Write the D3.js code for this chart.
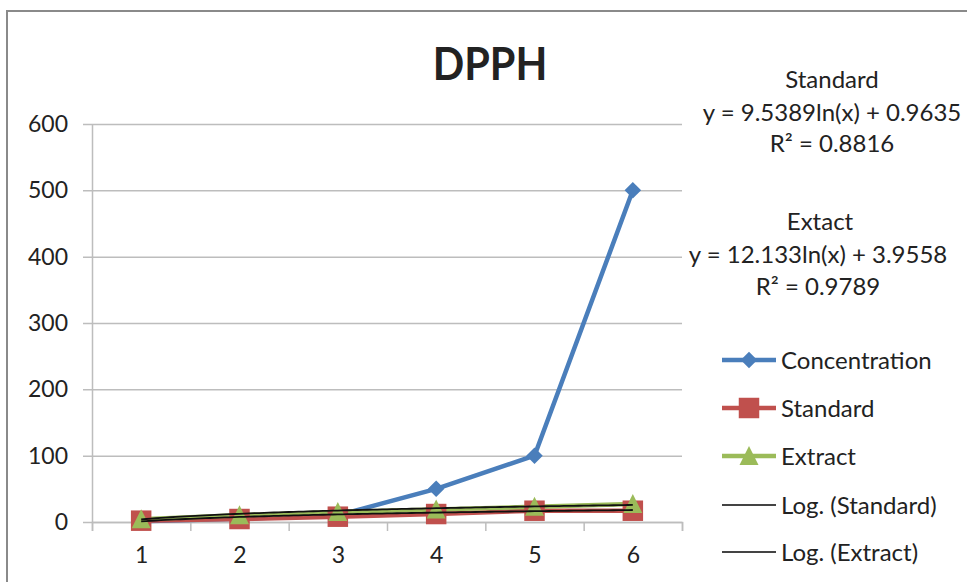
<!DOCTYPE html>
<html>
<head>
<meta charset="utf-8">
<script src="https://cdn.jsdelivr.net/npm/d3@7"></script>
<style>
  body { margin: 0; background: #fff; }
  text { font-family: Lato, "Open Sans", sans-serif; fill: #222; }
</style>
</head>
<body>
<div class="main"></div>
<script>
// dados
var categories    = [1, 2, 3, 4, 5, 6];
var concentration = [1, 5, 10, 50, 100, 500];
var standard      = [2, 4.5, 8, 12, 17, 17];
var extract       = [4, 10, 15, 19, 23, 27];
var yTicks        = [0, 100, 200, 300, 400, 500, 600];
// coeficientes das linhas de tendencia (a*ln(x) + b)
var trendStandard = [9.5389, 0.9635];
var trendExtract  = [12.133, 3.9558];
var legendLabels  = ['Concentration', 'Standard', 'Extract', 'Log. (Standard)', 'Log. (Extract)'];

var W = 967, H = 582;
var plotLeft = 92, plotRight = 682, plotTop = 124, plotBottom = 522;

var svg = d3.select('.main').append('svg')
    .attr('width', W).attr('height', H);

// moldura
svg.append('path')
    .attr('d', 'M7,' + H + 'V11H' + W)
    .attr('fill', 'none').attr('stroke', '#8a8a8a').attr('stroke-width', 2);

// escalas
var x = d3.scaleLinear().domain([0.5, 6.5]).range([plotLeft, plotRight]);
var y = d3.scaleLinear().domain([0, 600]).range([plotBottom, plotTop]);

// grade horizontal
svg.append('g')
    .attr('transform', 'translate(83,0)')
    .call(d3.axisLeft(y).tickValues(yTicks).tickSize(-(plotRight - 83)).tickFormat(''))
    .call(g => g.select('.domain').remove())
    .call(g => g.selectAll('line').attr('stroke', '#bdbdbd').attr('stroke-width', 1.5));

// eixo y
svg.append('g')
    .attr('transform', 'translate(' + plotLeft + ',0)')
    .call(d3.axisLeft(y).tickValues(yTicks).tickSize(0).tickPadding(24))
    .call(g => g.select('.domain').attr('stroke', '#bdbdbd').attr('stroke-width', 1.5))
    .call(g => g.selectAll('text').attr('font-size', 23).attr('font-family', 'Lato').attr('fill', '#333'));

// eixo x
svg.append('g')
    .attr('transform', 'translate(0,' + plotBottom + ')')
    .call(d3.axisBottom(x).tickValues(d3.range(0.5, 7, 1)).tickSize(9).tickFormat(''))
    .call(g => g.selectAll('line, .domain').attr('stroke', '#bdbdbd').attr('stroke-width', 1.5));
svg.append('g')
    .attr('transform', 'translate(0,' + plotBottom + ')')
    .call(d3.axisBottom(x).tickValues(categories).tickSize(0).tickPadding(25).tickFormat(d3.format('d')))
    .call(g => g.select('.domain').remove())
    .call(g => g.selectAll('text').attr('font-size', 23).attr('font-family', 'Lato').attr('fill', '#333'));

var colors = ['#4a7ebb', '#c0504d', '#9bbb59'];
var triangle = () => 'M0,-10L9.5,9L-9.5,9Z';
var symbols = [
    d3.symbol().type(d3.symbolDiamond2).size(175),
    d3.symbol().type(d3.symbolSquare).size(420),
    triangle
];
var series = [concentration, standard, extract];

var line = d3.line().x((d, i) => x(categories[i])).y(d => y(d));

series.forEach(function(s, k) {
    svg.append('path')
        .attr('d', line(s))
        .attr('fill', 'none')
        .attr('stroke', colors[k])
        .attr('stroke-width', 4.5)
        .attr('stroke-linejoin', 'round');
});
series.forEach(function(s, k) {
    svg.selectAll('.m' + k).data(s).enter().append('path')
        .attr('class', 'm' + k)
        .attr('transform', (d, i) => 'translate(' + x(categories[i]) + ',' + y(d) + ')')
        .attr('d', symbols[k]())
        .attr('fill', colors[k]);
});

// linhas de tendencia
var trendX = d3.range(1, 6.001, 0.05);
[trendStandard, trendExtract].forEach(function(c) {
    svg.append('path')
        .attr('d', d3.line().x(t => x(t)).y(t => y(c[0] * Math.log(t) + c[1]))(trendX))
        .attr('fill', 'none')
        .attr('stroke', '#111')
        .attr('stroke-width', 1.8);
});

// titulo
svg.append('text')
    .attr('transform', 'translate(490,80) scale(0.92,1)')
    .attr('text-anchor', 'middle')
    .attr('font-size', 45).attr('font-weight', 'bold')
    .attr('fill', '#000')
    .text('DPPH');

// equacoes
var eqs = [
    {x: 832, y: 88,  t: 'Standard'},
    {x: 832, y: 121, t: 'y = ' + trendStandard[0] + 'ln(x) + ' + trendStandard[1]},
    {x: 832, y: 152, t: 'R² = 0.8816'},
    {x: 820, y: 230, t: 'Extact'},
    {x: 818, y: 263, t: 'y = ' + trendExtract[0] + 'ln(x) + ' + trendExtract[1]},
    {x: 818, y: 295, t: 'R² = 0.9789'}
];
svg.selectAll('.eq').data(eqs).enter().append('text')
    .attr('class', 'eq')
    .attr('x', d => d.x).attr('y', d => d.y)
    .attr('text-anchor', 'middle')
    .attr('font-size', 24)
    .text(d => d.t);

// legenda
var legendY = [360, 408, 456, 505, 552];
var leg = svg.selectAll('.leg').data(legendLabels).enter().append('g')
    .attr('class', 'leg')
    .attr('transform', (d, i) => 'translate(722,' + legendY[i] + ')');
leg.append('line')
    .attr('x1', 0).attr('x2', 54)
    .attr('stroke', (d, i) => i < 3 ? colors[i] : '#444')
    .attr('stroke-width', (d, i) => i < 3 ? 4.5 : 1.8);
leg.filter((d, i) => i < 3).append('path')
    .attr('transform', 'translate(27,0)')
    .attr('d', (d, i) => symbols[i]())
    .attr('fill', (d, i) => colors[i]);
leg.append('text')
    .attr('x', 59).attr('dy', '0.36em')
    .attr('font-size', 24)
    .text(d => d);
</script>
</body>
</html>
